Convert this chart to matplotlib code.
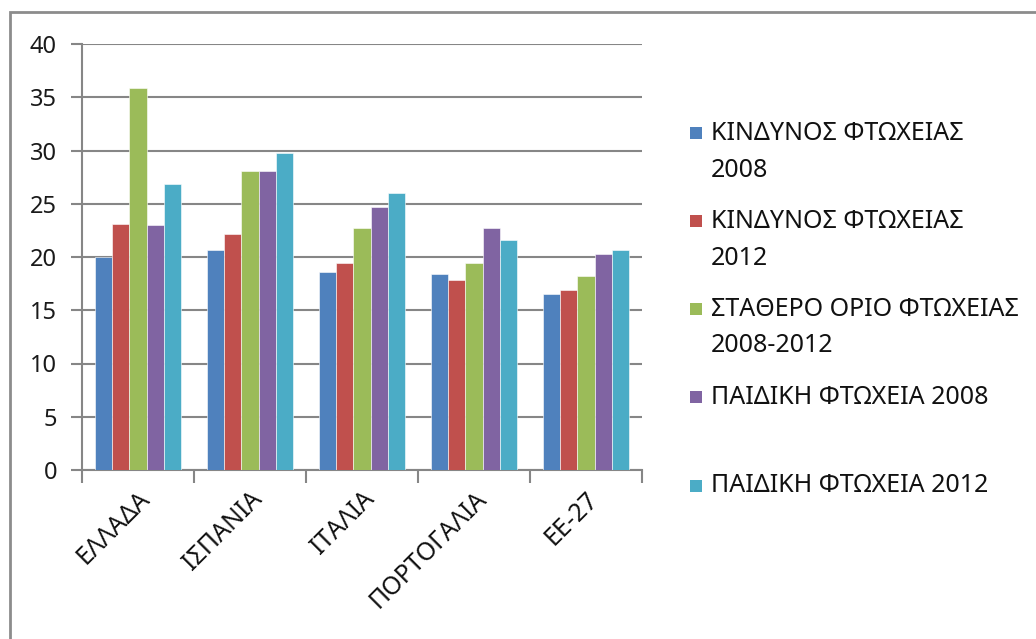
import matplotlib
matplotlib.use("Agg")
import matplotlib.pyplot as plt
import numpy as np
from matplotlib.patches import Rectangle

plt.rcParams['font.family'] = ['Noto Sans', 'DejaVu Sans']

categories = ["ΕΛΛΑΔΑ", "ΙΣΠΑΝΙΑ", "ΙΤΑΛΙΑ", "ΠΟΡΤΟΓΑΛΙΑ", "ΕΕ-27"]
series_names = ["ΚΙΝΔΥΝΟΣ ΦΤΩΧΕΙΑΣ\n2008", "ΚΙΝΔΥΝΟΣ ΦΤΩΧΕΙΑΣ\n2012",
                "ΣΤΑΘΕΡΟ ΟΡΙΟ ΦΤΩΧΕΙΑΣ\n2008-2012", "ΠΑΙΔΙΚΗ ΦΤΩΧΕΙΑ 2008",
                "ΠΑΙΔΙΚΗ ΦΤΩΧΕΙΑ 2012"]
risk_2008 = [20.0, 20.7, 18.6, 18.4, 16.5]
risk_2012 = [23.1, 22.2, 19.4, 17.8, 16.9]
fixed_threshold = [35.9, 28.1, 22.7, 19.4, 18.2]
child_2008 = [23.0, 28.1, 24.7, 22.7, 20.3]
child_2012 = [26.9, 29.8, 26.0, 21.6, 20.7]
yticks = [0, 5, 10, 15, 20, 25, 30, 35, 40]

series = [risk_2008, risk_2012, fixed_threshold, child_2008, child_2012]
colors = ["#4F81BD", "#C0504D", "#9BBB59", "#8064A2", "#4BACC6"]

W, H = 1036, 639
fig = plt.figure(figsize=(W / 100, H / 100), dpi=100)
fig.patch.set_facecolor("white")

# outer chart frame
fig.add_artist(Rectangle((10 / W, -0.05), 1.2, (H - 12) / H + 0.05,
                         transform=fig.transFigure, fill=False,
                         edgecolor="#8c8c8c", linewidth=2))

ax = fig.add_axes([82 / W, 1 - 470 / H, (642 - 82) / W, (470 - 44) / H])

grey = "#868686"
n = len(series)
bar_w = 1 / (n + 1.5)
x = np.arange(len(categories))
for i, (vals, col) in enumerate(zip(series, colors)):
    offs = (i - (n - 1) / 2) * bar_w
    ax.bar(x + offs, vals, width=bar_w, color=col, edgecolor="white",
           linewidth=0.4, zorder=3)

ax.set_xlim(-0.5, len(categories) - 0.5)
ax.set_ylim(0, 40)
ax.set_yticks(yticks)
ax.set_yticklabels([str(v) for v in yticks], fontsize=17, color="#1a1a1a")
ax.yaxis.grid(True, color=grey, linewidth=1.5, zorder=0)
ax.set_axisbelow(True)

ax.set_xticks(x)
ax.set_xticklabels(categories, rotation=45, ha="right", va="top",
                   rotation_mode="anchor", fontsize=18, color="#111111")
ax.tick_params(axis="x", which="major", length=0, pad=12)
ax.set_xticks(np.arange(-0.5, len(categories)), minor=True)
ax.tick_params(axis="x", which="minor", length=9, width=1.5, color=grey)
ax.tick_params(axis="y", length=8, width=1.5, color=grey, pad=10)

for s in ["top", "right"]:
    ax.spines[s].set_visible(False)
for s in ["left", "bottom"]:
    ax.spines[s].set_color(grey)
    ax.spines[s].set_linewidth(1.5)

# legend (manual, Excel style: marker aligned with first text line)
leg_y = [133, 221, 309, 397, 486]
for name, col, yy in zip(series_names, colors, leg_y):
    fig.add_artist(Rectangle((690 / W, 1 - (yy + 6) / H), 12 / W, 12 / H,
                             transform=fig.transFigure, facecolor=col,
                             edgecolor="none"))
    for k, line in enumerate(name.split("\n")):
        fig.text(711 / W, 1 - (yy + k * 37) / H, line, fontsize=18,
                 va="center", ha="left", color="#111111")

fig.savefig("out.png", dpi=100)
